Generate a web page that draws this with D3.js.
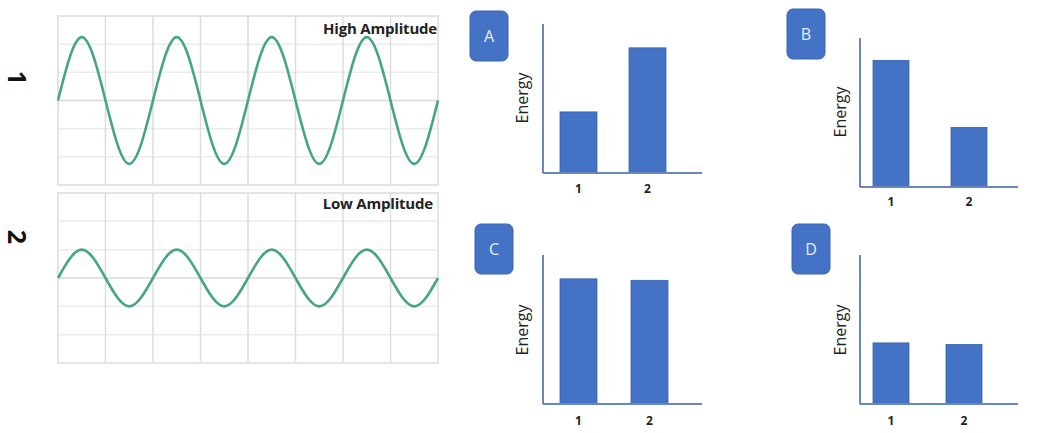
<!DOCTYPE html>
<html>
<head>
<meta charset="utf-8">
<script src="https://cdn.jsdelivr.net/npm/d3@7/dist/d3.min.js"></script>
<style>
  body { margin: 0; background: #fff; }
  svg { display: block; }
  text { font-family: "Open Sans", "Noto Sans", sans-serif; }
</style>
</head>
<body>
<div id="chart"></div>
<script>
  // wave readings, in grid units (x: columns, y: rows from centre line)
  var waveLabels = ['High Amplitude', 'Low Amplitude'];
  var rowLabels = ['1', '2'];
  var waveX = [0, 0.5, 1, 1.5, 2, 2.5, 3, 3.5, 4, 4.5, 5, 5.5, 6, 6.5, 7, 7.5, 8];
  var waveHigh = [0, 2.25, 0, -2.25, 0, 2.25, 0, -2.25, 0, 2.25, 0, -2.25, 0, 2.25, 0, -2.25, 0];
  var waveLow = [0, 1, 0, -1, 0, 1, 0, -1, 0, 1, 0, -1, 0, 1, 0, -1, 0];

  // bar answer options
  var options = ['A', 'B', 'C', 'D'];
  var categories = ['1', '2'];
  var energyA = [41, 84];
  var energyB = [85, 40];
  var energyC = [84, 83];
  var energyD = [41, 40];

  var W = 1038, H = 433;
  var waveColor = '#45a586';
  var barColor = '#4472c4';
  var axisColor = '#6a86bd';

  var svg = d3.select('#chart').append('svg')
    .attr('width', W)
    .attr('height', H);

  // ---- wave panels ----
  var wavePanels = [
    { top: 16, bottom: 185, values: waveHigh, labelY: 34, labelX: 437 },
    { top: 193, bottom: 363, values: waveLow, labelY: 209, labelX: 433 }
  ];
  var rowLabelY = [78, 237];

  wavePanels.forEach(function(p, k) {
    var g = svg.append('g');
    var x = d3.scaleLinear().domain([0, 8]).range([58, 438]);
    var y = d3.scaleLinear().domain([-3, 3]).range([p.bottom, p.top]);

    // horizontal grid
    g.selectAll('line.h')
      .data(d3.range(-2, 3))
      .enter().append('line')
      .attr('x1', x(0)).attr('x2', x(8))
      .attr('y1', function(d) { return y(d); })
      .attr('y2', function(d) { return y(d); })
      .attr('stroke', function(d) { return d === 0 ? '#d9d9d9' : '#ececec'; })
      .attr('stroke-width', 1.5);

    // vertical grid
    g.selectAll('line.v')
      .data(d3.range(1, 8))
      .enter().append('line')
      .attr('x1', function(d) { return x(d); })
      .attr('x2', function(d) { return x(d); })
      .attr('y1', p.top).attr('y2', p.bottom)
      .attr('stroke', '#dcdcdc')
      .attr('stroke-width', 1.5);

    g.append('rect')
      .attr('x', x(0)).attr('y', p.top)
      .attr('width', x(8) - x(0)).attr('height', p.bottom - p.top)
      .attr('fill', 'none')
      .attr('stroke', '#dcdcdc')
      .attr('stroke-width', 1.5);

    var line = d3.line()
      .x(function(d, i) { return x(waveX[i]); })
      .y(function(d) { return y(d); })
      .curve(d3.curveNatural);

    g.append('path')
      .datum(p.values)
      .attr('d', line)
      .attr('fill', 'none')
      .attr('stroke', waveColor)
      .attr('stroke-width', 2.6);

    g.append('text')
      .attr('x', p.labelX)
      .attr('y', p.labelY)
      .attr('text-anchor', 'end')
      .attr('font-size', 15)
      .attr('font-weight', 'bold')
      .attr('letter-spacing', -0.2)
      .attr('fill', '#222')
      .text(waveLabels[k]);

    // row number, rotated, kept fully inside the left edge
    svg.append('text')
      .attr('transform', 'translate(8,' + rowLabelY[k] + ') rotate(90)')
      .attr('text-anchor', 'middle')
      .attr('font-size', 25)
      .attr('font-weight', 'bold')
      .attr('fill', '#111')
      .text(rowLabels[k]);
  });

  // ---- bar panels ----
  var barData = [energyA, energyB, energyC, energyD];
  var layout = [
    { ox: 543, oy: 173, x1: 702, band: [560, 597, 629, 666], badge: [470, 11], labelY: 190, energy: [522, 98] },
    { ox: 860, oy: 187, x1: 1018, band: [873, 909, 951, 987], badge: [787, 9], labelY: 203, energy: [840, 112] },
    { ox: 543, oy: 404, x1: 702, band: [560, 597, 631, 667], badge: [475, 224], labelY: 422, energy: [522, 330] },
    { ox: 860, oy: 404, x1: 1018, band: [873, 909, 946, 982], badge: [792, 224], labelY: 422, energy: [840, 330] }
  ];
  var axisH = 149;

  options.forEach(function(opt, k) {
    var L = layout[k];
    var values = barData[k];
    var g = svg.append('g');

    // band scale fitted to the two bars
    var bw = L.band[1] - L.band[0];
    var step = L.band[2] - L.band[0];
    var pi = 1 - bw / step;
    var x = d3.scaleBand()
      .domain(categories)
      .range([L.band[0] - 0.0001, L.band[0] + step + bw])
      .paddingInner(pi)
      .paddingOuter(0);
    var y = d3.scaleLinear().domain([0, 100]).range([L.oy, L.oy - axisH]);

    g.selectAll('rect.bar')
      .data(values)
      .enter().append('rect')
      .attr('class', 'bar')
      .attr('x', function(d, i) { return x(categories[i]); })
      .attr('width', x.bandwidth())
      .attr('y', function(d) { return y(d); })
      .attr('height', function(d) { return y(0) - y(d); })
      .attr('fill', barColor)
      .attr('stroke', '#3a62ad')
      .attr('stroke-width', 0.8);

    // axes
    g.append('line')
      .attr('x1', L.ox).attr('x2', L.ox)
      .attr('y1', y(100)).attr('y2', y(0))
      .attr('stroke', axisColor).attr('stroke-width', 2);
    g.append('line')
      .attr('x1', L.ox).attr('x2', L.x1)
      .attr('y1', y(0)).attr('y2', y(0))
      .attr('stroke', axisColor).attr('stroke-width', 2);

    var xAxis = g.append('g')
      .attr('transform', 'translate(0,' + (L.labelY - 6) + ')')
      .call(d3.axisBottom(x).tickSize(0).tickPadding(0));
    xAxis.select('.domain').remove();
    xAxis.selectAll('text')
      .attr('font-family', '"Open Sans", "Noto Sans", sans-serif')
      .attr('font-size', 12)
      .attr('font-weight', 'bold')
      .attr('fill', '#222');

    g.append('text')
      .attr('transform', 'translate(' + L.energy[0] + ',' + L.energy[1] + ') rotate(-90)')
      .attr('text-anchor', 'middle')
      .attr('dominant-baseline', 'central')
      .attr('font-size', 16)
      .attr('fill', '#222')
      .text('Energy');

    // option badge
    g.append('rect')
      .attr('x', L.badge[0]).attr('y', L.badge[1])
      .attr('width', 38).attr('height', 50)
      .attr('rx', 6)
      .attr('fill', '#4472c4')
      .attr('stroke', '#3b65b3')
      .attr('stroke-width', 1);
    g.append('text')
      .attr('x', L.badge[0] + 19)
      .attr('y', L.badge[1] + 25)
      .attr('text-anchor', 'middle')
      .attr('dominant-baseline', 'central')
      .attr('font-size', 16)
      .attr('fill', '#e8eefa')
      .text(opt);
  });
</script>
</body>
</html>
